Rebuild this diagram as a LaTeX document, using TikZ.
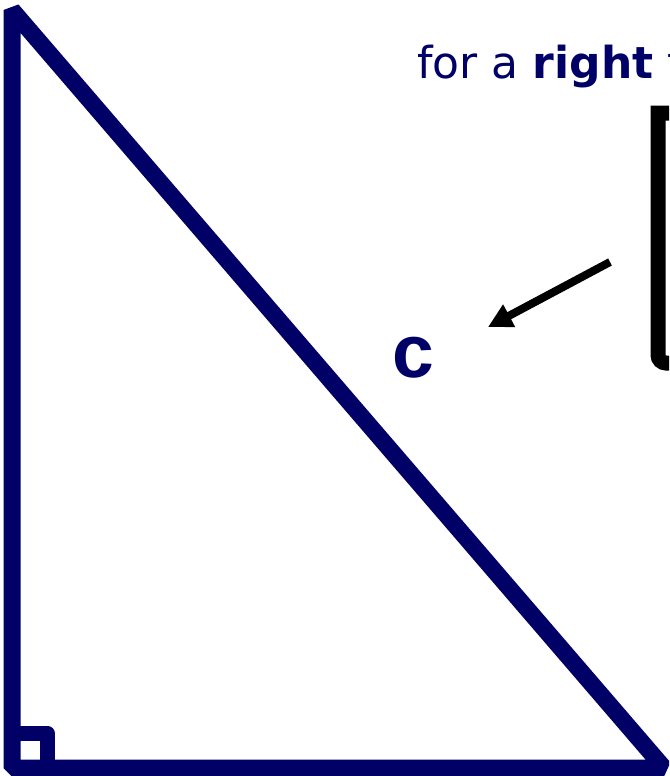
\documentclass[tikz,border=0pt]{standalone}
\usepackage{fontspec}
\usepackage{xcolor}
\usepackage{tikz}
\usetikzlibrary{arrows.meta, positioning}
\newfontfamily\titlefont{DejaVu Sans}
\newfontfamily\sidefont{Liberation Sans}
\definecolor{navy}{RGB}{0,0,102}
\begin{document}
\begin{tikzpicture}[
    x=0.5pt, y=-0.5pt,
    edge/.style={line width=8.5pt, draw=navy, line join=bevel},
    rightangle/.style={line width=7.5pt, draw=navy, line join=round},
    bracket/.style={line width=7.5pt, draw=black, line join=miter},
    pointer/.style={-{Triangle[length=12pt, width=12pt]}, line width=4pt, draw=black},
    sidelabel/.style={inner sep=0pt, text=navy, font=\sidefont\bfseries\fontsize{37.5}{40}\selectfont},
    heading/.style={inner sep=0pt, text=navy, font=\titlefont\fontsize{22}{26}\selectfont}
]
\path[use as bounding box, clip] (0,0) rectangle (669,776);
\coordinate (top) at (12,10);
\coordinate (corner) at (12,768);
\coordinate (right) at (664,768);
\draw [edge] (top) -- (corner) -- (right) -- cycle;
\draw [rightangle] (12,733) -- (47,733) -- (47,768);
\node (title) [heading, anchor=base west] at (417,78) {for a \textbf{right} t};
\draw [bracket] (690,113) -- (658,113) -- (658,355) arc[start angle=180, end angle=90, radius=8] -- (690,363);
\node (hyp) [sidelabel] at (413,358) {c};
\coordinate (tail) at (610,262);
\coordinate (tip) at (488,327);
\draw [pointer] (tail) -- (tip);
\end{tikzpicture}
\end{document}
